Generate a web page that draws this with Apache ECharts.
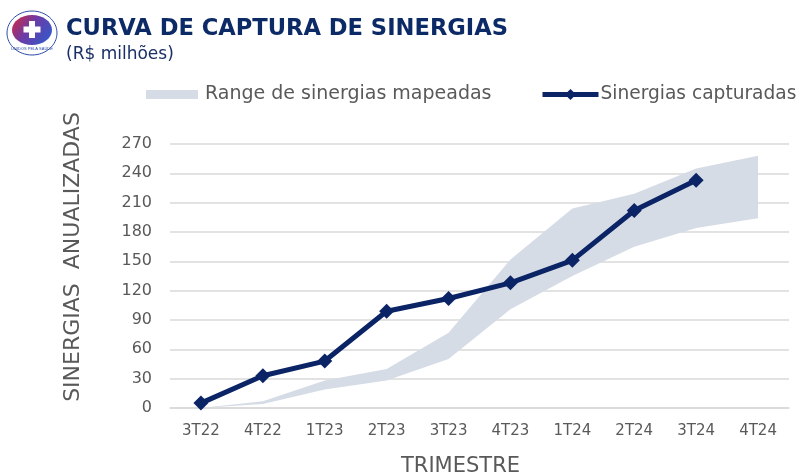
<!DOCTYPE html>
<html>
<head>
<meta charset="utf-8">
<script src="https://cdn.jsdelivr.net/npm/echarts@6/dist/echarts.min.js"></script>
<style>
  html, body { margin: 0; padding: 0; background: #fff; }
  #chart { width: 800px; height: 476px; }
</style>
</head>
<body>
<div id="chart"></div>
<script>
const quarters = ['3T22', '4T22', '1T23', '2T23', '3T23', '4T23', '1T24', '2T24', '3T24', '4T24'];
const rangeLow = [0, 4, 19, 28, 50, 101, 135, 165, 184, 194];
const rangeHigh = [0, 7, 28, 40, 77, 152, 204, 219, 245, 258];
const captured = [5, 33, 48, 99, 112, 128, 151, 202, 233, null];
const yTicks = { min: 0, max: 270, step: 30 };

const navy = '#0b2466';
const grey = '#595959';
const band = '#d6dce6';
const font = 'DejaVu Sans';

// band height on top of the lower edge
const rangeSpan = rangeHigh.map((v, i) => v - rangeLow[i]);

const chart = echarts.init(document.getElementById('chart'));

chart.setOption({
  animation: false,
  textStyle: { fontFamily: font },
  grid: { left: 170, right: 11, top: 144, bottom: 68, outerBoundsMode: 'none' },
  legend: [
    {
      data: [{ name: 'Range de sinergias mapeadas', icon: 'rect' }],
      left: 141,
      top: 80,
      itemWidth: 52,
      itemHeight: 9,
      textStyle: { color: grey, fontSize: 19, fontFamily: font, padding: [0, 0, 0, 2] }
    },
    {
      data: ['Sinergias capturadas'],
      left: 535,
      top: 80,
      itemWidth: 56,
      itemHeight: 14,
      lineStyle: { width: 5 },
      textStyle: { color: grey, fontSize: 18.6, fontFamily: font, padding: [0, 0, 0, -3] }
    }
  ],
  xAxis: {
    type: 'category',
    data: quarters,
    name: 'TRIMESTRE',
    nameLocation: 'middle',
    nameGap: 48,
    nameTextStyle: { color: grey, fontSize: 21, padding: [0, 38, 0, 0] },
    axisLine: { lineStyle: { color: '#d9d9d9', width: 1.5 } },
    axisTick: { show: false },
    axisLabel: { color: grey, fontSize: 15, margin: 16 }
  },
  yAxis: {
    type: 'value',
    min: yTicks.min,
    max: yTicks.max,
    interval: yTicks.step,
    name: 'SINERGIAS  ANUALIZADAS',
    nameLocation: 'middle',
    nameGap: 86,
    nameTextStyle: { color: grey, fontSize: 22, padding: [0, 0, 0, 38] },
    axisLine: { show: false },
    axisTick: { show: false },
    axisLabel: { color: grey, fontSize: 16, margin: 18 },
    splitLine: { lineStyle: { color: '#d9d9d9', width: 1.5 } }
  },
  graphic: [
    {
      type: 'group',
      x: 7,
      y: 11,
      children: [
        { type: 'ellipse', shape: { cx: 25, cy: 22, rx: 25, ry: 22 }, style: { fill: '#fff', stroke: '#2b4aa8', lineWidth: 1 } },
        {
          type: 'ellipse',
          shape: { cx: 25, cy: 19, rx: 20, ry: 15 },
          style: {
            fill: new echarts.graphic.LinearGradient(0, 0, 1, 1, [
              { offset: 0, color: '#d9263a' },
              { offset: 0.45, color: '#6a3ca8' },
              { offset: 1, color: '#2a5fd0' }
            ])
          }
        },
        { type: 'rect', shape: { x: 22, y: 10, width: 6, height: 17 }, style: { fill: '#fff' } },
        { type: 'rect', shape: { x: 16.5, y: 15.5, width: 17, height: 6 }, style: { fill: '#fff' } },
        { type: 'text', style: { x: 25, y: 36, text: 'UNIDOS PELA SAÚDE', fontSize: 4, fill: '#2b4aa8', align: 'center' } }
      ]
    },
    {
      type: 'text',
      left: 66,
      top: 18,
      style: { text: 'CURVA DE CAPTURA DE SINERGIAS', fontSize: 22.6, fontWeight: 'bold', fill: '#0b2a66', fontFamily: font }
    },
    {
      type: 'text',
      left: 66,
      top: 46,
      style: { text: '(R$ milhões)', fontSize: 17, fill: '#1a2f66', fontFamily: font }
    }
  ],
  series: [
    {
      name: 'rangeLow',
      type: 'line',
      data: rangeLow,
      stack: 'range',
      symbol: 'none',
      lineStyle: { opacity: 0 },
      silent: true
    },
    {
      name: 'Range de sinergias mapeadas',
      type: 'line',
      data: rangeSpan,
      stack: 'range',
      symbol: 'none',
      itemStyle: { color: band },
      lineStyle: { opacity: 0 },
      areaStyle: { color: band, opacity: 1 },
      silent: true
    },
    {
      name: 'Sinergias capturadas',
      type: 'line',
      data: captured,
      symbol: 'diamond',
      symbolSize: 15,
      itemStyle: { color: navy },
      lineStyle: { color: navy, width: 5 },
      z: 5
    }
  ]
});
</script>
</body>
</html>
